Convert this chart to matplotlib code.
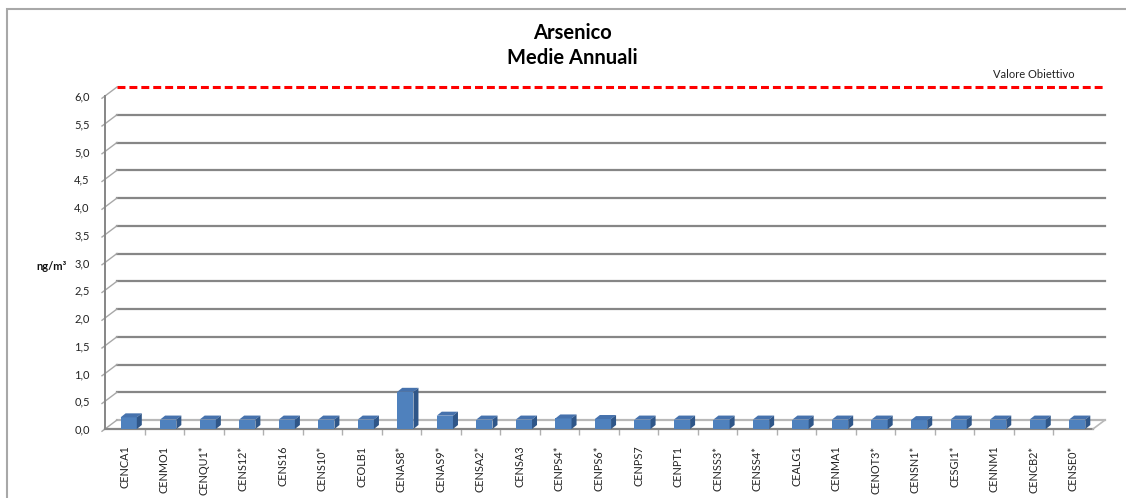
import matplotlib
matplotlib.use("Agg")
import matplotlib.pyplot as plt
from matplotlib.patches import Polygon, Rectangle
from matplotlib.lines import Line2D

# --- data -------------------------------------------------------------
stations = ["CENCA1", "CENMO1", "CENQU1*", "CENS12*", "CENS16", "CENS10*",
            "CEOLB1", "CENAS8*", "CENAS9*", "CENSA2*", "CENSA3", "CENPS4*",
            "CENPS6*", "CENPS7", "CENPT1", "CENSS3*", "CENSS4*", "CEALG1",
            "CENMA1", "CENOT3*", "CENSN1*", "CESGI1*", "CENNM1", "CENCB2*",
            "CENSE0*"]
medie = [0.21, 0.17, 0.17, 0.17, 0.17, 0.17, 0.17, 0.67, 0.24, 0.17, 0.17,
         0.19, 0.18, 0.17, 0.17, 0.17, 0.17, 0.17, 0.17, 0.17, 0.16, 0.17,
         0.17, 0.17, 0.17]
yticks = [0.0, 0.5, 1.0, 1.5, 2.0, 2.5, 3.0, 3.5, 4.0, 4.5, 5.0, 5.5, 6.0]
valore_obiettivo = 6.0

plt.rcParams["font.family"] = ["Lato", "DejaVu Sans"]

W, H = 1126, 498
fig = plt.figure(figsize=(W / 100, H / 100), dpi=100)
# plot area in pixels (front plane)
px_l, px_r, px_t, px_b = 105, 1093, 96, 429
ax = fig.add_axes([px_l / W, 1 - px_b / H, (px_r - px_l) / W, (px_b - px_t) / H])
n = len(stations)
ax.set_xlim(-0.5, n - 0.5)
ax.set_ylim(0, 6)
for s in ax.spines.values():
    s.set_visible(False)

# pixel -> data scale factors for the pseudo-3D depth
sx = n / (px_r - px_l)
sy = 6 / (px_b - px_t)
wall_dx, wall_dy = 12 * sx, 9 * sy      # back wall offset
bar_dx, bar_dy = 5 * sx, 4 * sy         # bar depth

x0, x1 = -0.5, n - 0.5
grid_col = "#868686"
# back wall gridlines + connectors
for v in yticks:
    if v == valore_obiettivo:
        continue
    col = "#b8b8b8" if v == 0 else grid_col
    ax.add_line(Line2D([x0 + wall_dx, x1 + wall_dx], [v + wall_dy, v + wall_dy],
                       color=col, lw=1.6, clip_on=False, zorder=1))
for v in yticks:
    ax.add_line(Line2D([x0 - 0.25 * wall_dx, x0 + wall_dx],
                       [v - 0.25 * wall_dy, v + wall_dy],
                       color="#a8a8a8", lw=1.0, clip_on=False, zorder=1))

# target line
ax.add_line(Line2D([x0 + wall_dx, x1 + wall_dx],
                   [valore_obiettivo + wall_dy, valore_obiettivo + wall_dy],
                   color="#ff0000", lw=2.2, dashes=(2.6, 1.3),
                   clip_on=False, zorder=2))
ax.text(23.0, valore_obiettivo + wall_dy + 7 * sy, "Valore Obiettivo",
        ha="center", va="bottom", fontsize=8, color="#222222")

# front axis and floor
ax.add_line(Line2D([x0, x0], [0, 6], color=grid_col, lw=1.4, clip_on=False, zorder=3))
ax.add_line(Line2D([x0, x1], [0, 0], color=grid_col, lw=1.6, clip_on=False, zorder=3))
ax.add_line(Line2D([x1, x1 + wall_dx], [0, wall_dy], color="#b8b8b8", lw=1.2,
                   clip_on=False, zorder=3))

# bars (front, top, side faces)
pos = [i + 0.1 for i in range(n)]
bw = 0.41
ax.bar(pos, medie, width=bw, color="#4f81bd", zorder=4)
for p, h in zip(pos, medie):
    a, b = p - bw / 2, p + bw / 2
    ax.add_patch(Polygon([(a, h), (b, h), (b + bar_dx, h + bar_dy),
                          (a + bar_dx, h + bar_dy)], closed=True,
                         facecolor="#4672ad", edgecolor="none", zorder=4))
    ax.add_patch(Polygon([(b, 0), (b, h), (b + bar_dx, h + bar_dy),
                          (b + bar_dx, bar_dy)], closed=True,
                         facecolor="#2f5688", edgecolor="none", zorder=4))

# ticks
ax.set_yticks(yticks, [f"{v:.1f}".replace(".", ",") for v in yticks])
ax.tick_params(axis="y", length=0, pad=11, labelsize=8, labelcolor="#222222")
ax.set_xticks(range(n), stations, rotation=90, va="top", ha="center")
ax.tick_params(axis="x", which="major", length=0, pad=12, labelsize=7.8,
               labelcolor="#222222")
ax.set_xticks([i + 0.5 for i in range(n - 1)], minor=True)
ax.tick_params(axis="x", which="minor", length=4, color="#b0b0b0", width=1)

fig.text(52 / W, 1 - 266 / H, "ng/m³", ha="center", va="center",
         fontsize=8, fontweight="bold", color="#111111")
fig.text(572 / W, 1 - 33 / H, "Arsenico", ha="center", va="center",
         fontsize=14.5, fontweight="bold")
fig.text(572 / W, 1 - 58 / H, "Medie Annuali", ha="center", va="center",
         fontsize=14.5, fontweight="bold")

# chart border
fig.patches.append(Rectangle((7 / W, -0.1), 1.2, 1 - 9 / H + 0.1,
                             transform=fig.transFigure, fill=False,
                             edgecolor="#a8a8a8", lw=1.5))

fig.savefig("out.png", dpi=100)
